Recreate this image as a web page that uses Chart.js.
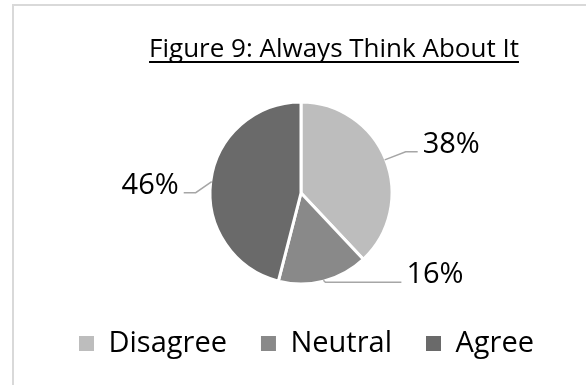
<!DOCTYPE html>
<html>
<head>
<meta charset="utf-8">
<script src="https://cdn.jsdelivr.net/npm/chart.js@4.4.1/dist/chart.umd.min.js"></script>
<style>
  html, body { margin: 0; padding: 0; background: #ffffff; }
  #wrap { width: 586px; height: 385px; position: relative; }
</style>
</head>
<body>
<div id="wrap"><canvas id="pieChart" width="586" height="385"></canvas></div>
<script>
"use strict";

  // survey answers, percent of respondents
  const categories = ['Disagree', 'Neutral', 'Agree'];
  const shares = [38, 16, 46];
  const titleText = 'Figure 9: Always Think About It';

  const sliceColors = ['#bdbdbd', '#898989', '#6a6a6a'];
  const FONT = '"Open Sans", "Noto Sans", sans-serif';

  Chart.defaults.font.family = FONT;
  Chart.defaults.color = '#000000';

  // light frame along the top and left edge
  const frame = {
    id: 'frame',
    beforeDraw(chart, args, opts) {
      const ctx = chart.ctx;
      ctx.save();
      ctx.fillStyle = opts.color;
      ctx.fillRect(opts.x, opts.y, chart.width - opts.x, 2);
      ctx.fillRect(opts.x, opts.y, 2, chart.height - opts.y);
      ctx.restore();
    }
  };

  // underlined heading
  const headline = {
    id: 'headline',
    afterDraw(chart, args, opts) {
      const ctx = chart.ctx;
      ctx.save();
      ctx.font = opts.size + 'px ' + FONT;
      ctx.fillStyle = '#000000';
      ctx.textAlign = 'center';
      ctx.textBaseline = 'alphabetic';
      ctx.fillText(opts.text, opts.x, opts.y);
      const w = ctx.measureText(opts.text).width;
      ctx.fillRect(opts.x - w / 2, opts.y + 4, w, 2);
      ctx.restore();
    }
  };

  // move the pie off the legend's centre line
  const pieShift = {
    id: 'pieShift',
    afterLayout(chart, args, opts) {
      chart.chartArea.left += opts.dx;
      chart.chartArea.right += opts.dx;
    }
  };

  // percent labels with bent leader lines
  const sliceLabels = {
    id: 'sliceLabels',
    afterDatasetsDraw(chart, args, opts) {
      const ctx = chart.ctx;
      const meta = chart.getDatasetMeta(0);
      const values = chart.data.datasets[0].data;
      ctx.save();
      meta.data.forEach((arc, i) => {
        const p = arc.getProps(['x', 'y', 'startAngle', 'endAngle', 'outerRadius'], true);
        const mid = (p.startAngle + p.endAngle) / 2;
        const r = p.outerRadius - 1;
        const ex = p.x + Math.cos(mid) * r;
        const ey = p.y + Math.sin(mid) * r;
        const lead = opts.leaders[i];
        const bx = ex + lead.bend[0];
        const by = ey + lead.bend[1];
        const tx = bx + lead.run;
        ctx.strokeStyle = opts.lineColor;
        ctx.lineWidth = 1.5;
        ctx.beginPath();
        ctx.moveTo(ex, ey);
        ctx.lineTo(bx, by);
        ctx.lineTo(tx, by);
        ctx.stroke();
        ctx.fillStyle = '#000000';
        ctx.font = opts.size + 'px ' + FONT;
        ctx.textBaseline = 'alphabetic';
        ctx.textAlign = lead.run < 0 ? 'right' : 'left';
        ctx.fillText(values[i] + '%', tx + (lead.run < 0 ? -5 : 5), by + 1);
      });
      ctx.restore();
    }
  };

  var pieCtx = document.getElementById('pieChart').getContext('2d');
  var pieChart = new Chart(pieCtx, {
    type: 'pie',
    data: {
      labels: categories,
      datasets: [{
        data: shares,
        backgroundColor: sliceColors,
        borderColor: '#ffffff',
        borderWidth: 3,
        radius: 91
      }]
    },
    options: {
      responsive: false,
      animation: false,
      layout: {
        padding: { top: 91, left: 45, right: 0, bottom: 17 }
      },
      plugins: {
        tooltip: { enabled: false },
        title: { display: false },
        legend: {
          position: 'bottom',
          align: 'start',
          labels: {
            boxWidth: 15,
            boxHeight: 15,
            padding: 34,
            color: '#000000',
            font: { size: 29 },
            // plain filled squares, no white outline
            generateLabels(chart) {
              const items = Chart.overrides.pie.plugins.legend.labels.generateLabels(chart);
              items.forEach(item => { item.lineWidth = 0; });
              return items;
            }
          }
        },
        frame: { x: 12, y: 4, color: '#d9d9d9' },
        headline: { text: titleText, x: 334, y: 57, size: 26 },
        pieShift: { dx: -14.5 },
        sliceLabels: {
          size: 29,
          lineColor: '#a6a6a6',
          leaders: [
            { bend: [21, -8], run: 12 },
            { bend: [2, 2], run: 76 },
            { bend: [-16, 11], run: -12 }
          ]
        }
      }
    },
    plugins: [frame, headline, pieShift, sliceLabels]
  });
</script>
</body>
</html>
